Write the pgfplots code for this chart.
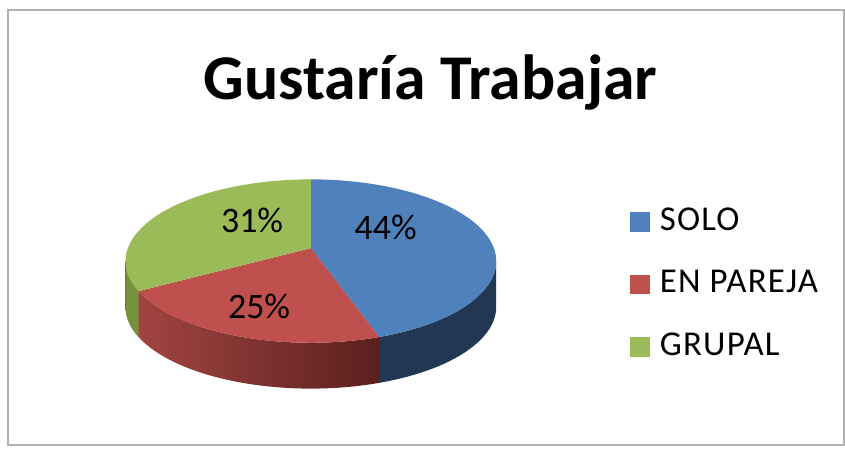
\documentclass[border=0pt]{standalone}
\usepackage{pgfplots}
\pgfplotsset{compat=1.18}
\usepackage{fontspec}
\setmainfont{Carlito}
\newfontfamily\legfont[LetterSpace=3.5]{Carlito}

\definecolor{solo}{HTML}{4F81BD}
\definecolor{pareja}{HTML}{C0504D}
\definecolor{grupal}{HTML}{9BBB59}
\definecolor{soloside}{HTML}{213753}
\definecolor{parejasideA}{HTML}{A54643}
\definecolor{parejasideB}{HTML}{5A201E}
\definecolor{grupalside}{HTML}{76923C}

% shares (percent)
\def\vSolo{44}
\def\vPareja{25}
\def\vGrupal{31}
% ellipse geometry in pixel units (apex a little above the rim centre)
\def\cx{312}\def\cy{188}\def\rx{186}\def\ry{82}\def\dep{46}\def\ay{201}

\begin{document}
\begin{tikzpicture}
\pgfmathsetmacro\aA{90-3.6*\vSolo}
\pgfmathsetmacro\aB{\aA-3.6*\vPareja}
\pgfmathsetmacro\aC{\aB-3.6*\vGrupal}
\begin{axis}[
  x=0.5pt, y=0.5pt,
  xmin=0, xmax=845, ymin=0, ymax=450,
  hide axis, clip=false,
  legend style={at={(axis cs:632,247.5)}, anchor=north west,
    draw=none, fill=none, font=\legfont\fontsize{17.5}{20}\selectfont,
    row sep=12pt, inner sep=0pt,
    nodes={text height=12pt, text depth=3.5pt, inner sep=2pt}},
  legend cell align=left,
]
\path (0,0) rectangle (845,450);
\draw[gray!60, line width=1pt] (8,3) rectangle (847,440);

\node[font=\bfseries\fontsize{32}{38}\selectfont, anchor=base] at (432,350) {Gustaría Trabajar};

% sides
\shade[left color=parejasideA, right color=parejasideB]
  plot[domain=\aA:-180, samples=60] ({\cx+\rx*cos(\x)},{\cy+\ry*sin(\x)})
  -- plot[domain=-180:\aA, samples=60] ({\cx+\rx*cos(\x)},{\cy-\dep+\ry*sin(\x)}) -- cycle;
\fill[soloside]
  plot[domain=0:\aA, samples=40] ({\cx+\rx*cos(\x)},{\cy+\ry*sin(\x)})
  -- plot[domain=\aA:0, samples=40] ({\cx+\rx*cos(\x)},{\cy-\dep+\ry*sin(\x)}) -- cycle;
\fill[grupalside]
  plot[domain=\aB:-180, samples=20] ({\cx+\rx*cos(\x)},{\cy+\ry*sin(\x)})
  -- plot[domain=-180:\aB, samples=20] ({\cx+\rx*cos(\x)},{\cy-\dep+\ry*sin(\x)}) -- cycle;

% top faces
\fill[solo] (\cx,\ay) -- plot[domain=90:\aA, samples=80] ({\cx+\rx*cos(\x)},{\cy+\ry*sin(\x)}) -- cycle;
\fill[pareja] (\cx,\ay) -- plot[domain=\aA:\aB, samples=60] ({\cx+\rx*cos(\x)},{\cy+\ry*sin(\x)}) -- cycle;
\fill[grupal] (\cx,\ay) -- plot[domain=\aB:\aC, samples=60] ({\cx+\rx*cos(\x)},{\cy+\ry*sin(\x)}) -- cycle;

\begin{scope}[font=\fontsize{18}{21}\selectfont]
\node at (387,222) {\vSolo\%};
\node at (260,142) {\vPareja\%};
\node at (253,229) {\vGrupal\%};
\end{scope}

\addlegendimage{legend image code/.code={\fill[solo] (0pt,-4.75pt) rectangle (9.5pt,4.75pt); \path (12.5pt,0pt);}}
\addlegendentry{SOLO}
\addlegendimage{legend image code/.code={\fill[pareja] (0pt,-4.75pt) rectangle (9.5pt,4.75pt); \path (12.5pt,0pt);}}
\addlegendentry{EN PAREJA}
\addlegendimage{legend image code/.code={\fill[grupal] (0pt,-4.75pt) rectangle (9.5pt,4.75pt); \path (12.5pt,0pt);}}
\addlegendentry{GRUPAL}
\end{axis}
\end{tikzpicture}
\end{document}
